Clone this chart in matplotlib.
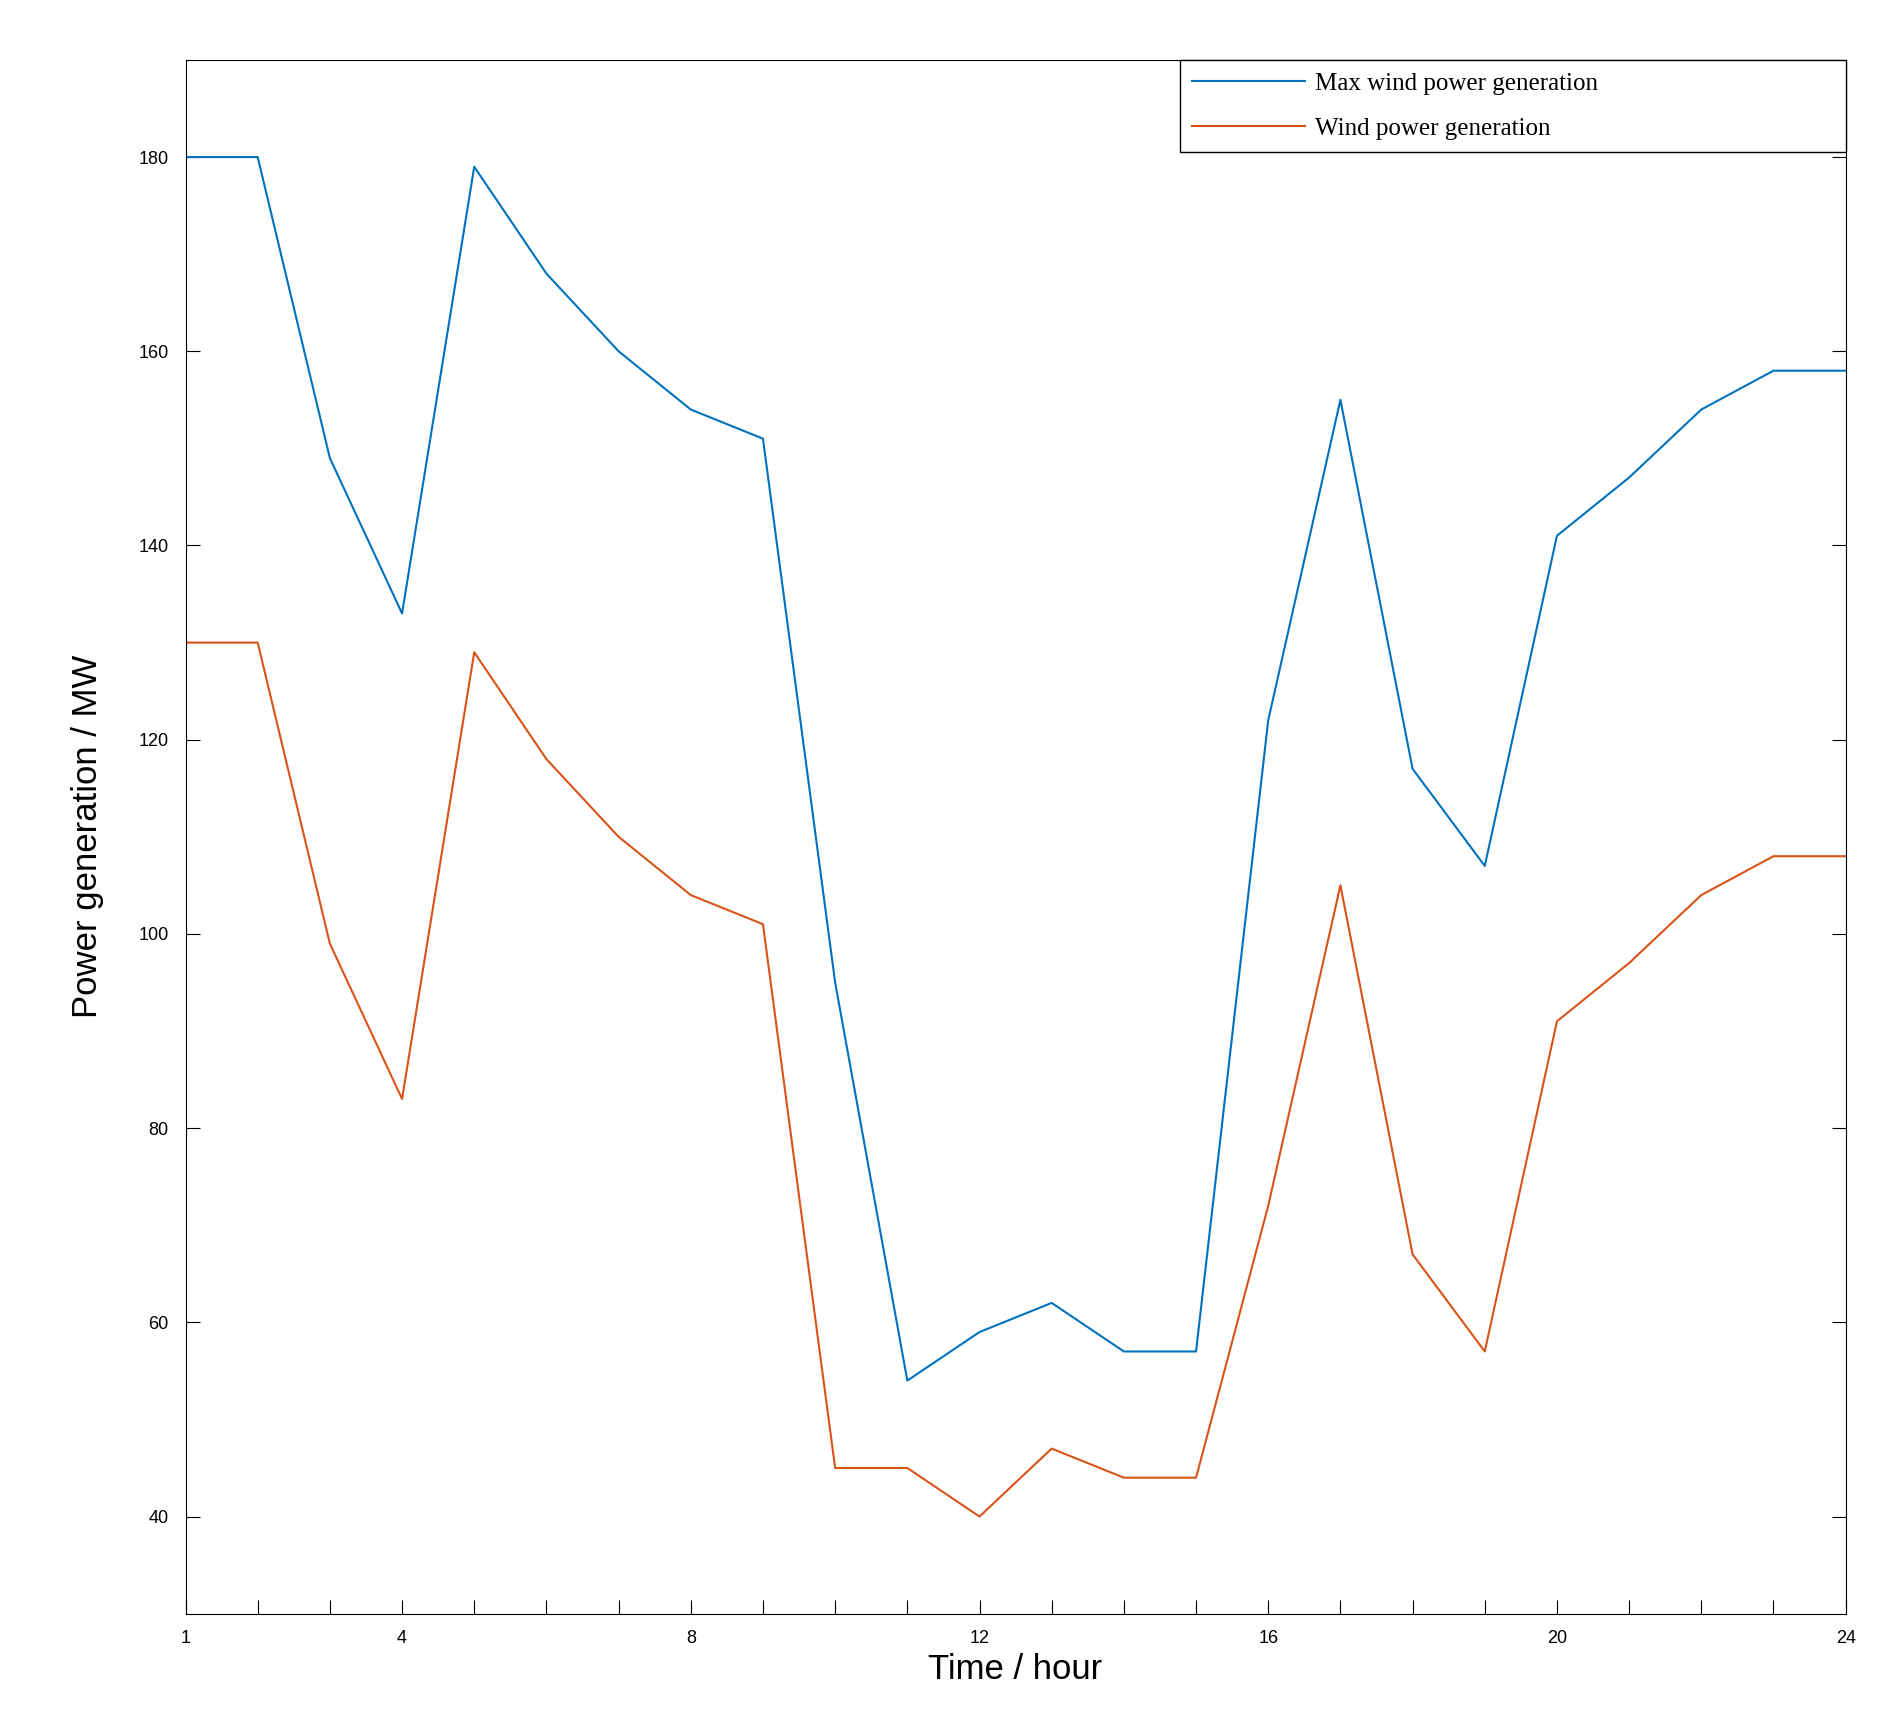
import matplotlib
matplotlib.use("Agg")
import matplotlib.pyplot as plt

plt.rcParams['font.family'] = ['Liberation Sans', 'DejaVu Sans']

hours = list(range(1, 25))
max_wind = [180, 180, 149, 133, 179, 168, 160, 154, 151, 95, 54, 59, 62, 57, 57, 122, 155, 117, 107, 141, 147, 154, 158, 158]
wind = [130, 130, 99, 83, 129, 118, 110, 104, 101, 45, 45, 40, 47, 44, 44, 72, 105, 67, 57, 91, 97, 104, 108, 108]
xtick_labels = [1, 4, 8, 12, 16, 20, 24]
yticks = [40, 60, 80, 100, 120, 140, 160, 180]

fig = plt.figure(figsize=(18.93, 17.13), dpi=100)
ax = fig.add_axes([0.098, 0.058, 0.877, 0.907])
ax.plot(hours, max_wind, color="#0072BD", lw=1.5, label="Max wind power generation")
ax.plot(hours, wind, color="#D95319", lw=1.5, label="Wind power generation")
ax.set_xlim(1, 24)
ax.set_ylim(30, 190)
ax.set_xticks(hours)
ax.set_xticklabels([str(h) if h in xtick_labels else "" for h in hours])
ax.set_yticks(yticks)
ax.tick_params(direction="in", length=10, labelsize=13, right=True, top=False, pad=12)
ax.set_xlabel("Time / hour", fontsize=25)
ax.set_ylabel("Power generation / MW", fontsize=25, labelpad=25)
leg = ax.legend(loc="upper left", bbox_to_anchor=(0.599, 0.923, 0.401, 0.077), mode="expand",
                prop={"family": "Liberation Serif", "size": 18},
                fancybox=False, edgecolor="black", framealpha=1, borderaxespad=0,
                handlelength=4.5, handletextpad=0.4, borderpad=0.5, labelspacing=0.9)
leg.get_frame().set_linewidth(1.0)
fig.savefig("out.png", dpi=100)
